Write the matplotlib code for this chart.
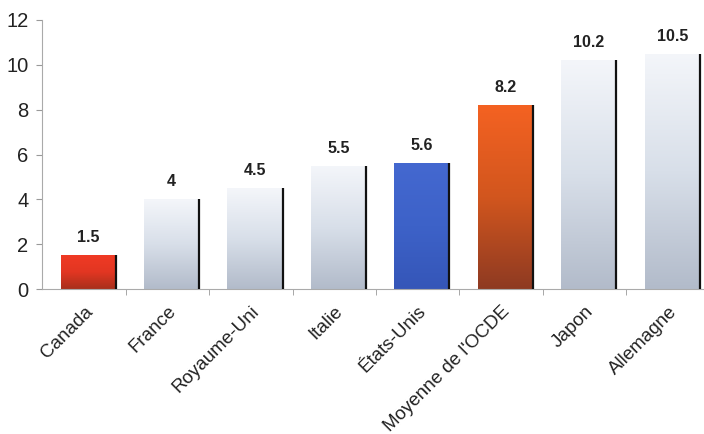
import matplotlib
matplotlib.use("Agg")
import matplotlib.pyplot as plt
import matplotlib.transforms as mtransforms
import numpy as np
from matplotlib.colors import LinearSegmentedColormap

categories = ["Canada", "France", "Royaume-Uni", "Italie", "États-Unis",
              "Moyenne de l'OCDE", "Japon", "Allemagne"]
values = [1.5, 4, 4.5, 5.5, 5.6, 8.2, 10.2, 10.5]
value_labels = ["1.5", "4", "4.5", "5.5", "5.6", "8.2", "10.2", "10.5"]
styles = ["red", "gray", "gray", "gray", "blue", "orange", "gray", "gray"]
yticks = [0, 2, 4, 6, 8, 10, 12]

plt.rcParams['font.family'] = ['Liberation Sans', 'DejaVu Sans']

grads = {
    "red": ["#a8301c", "#e23622", "#f03a24"],      # bottom -> top
    "gray": ["#b2bbca", "#d8dfe9", "#f4f6fa"],
    "blue": ["#3556b8", "#3d62c8", "#4468d0"],
    "orange": ["#8e3a22", "#d2561e", "#f46222"],
}

fig = plt.figure(figsize=(7.04, 4.34), dpi=100)
ax = fig.add_axes([0.06, 0.334, 0.94, 0.62])

x = np.arange(len(categories))
w = 0.66
bars = ax.bar(x + 0.05, values, width=w, color="none", edgecolor="none", zorder=2)

grad = np.linspace(0, 1, 256).reshape(-1, 1)
for b, s, v, lab in zip(bars, styles, values, value_labels):
    x0, y0 = b.get_x(), b.get_y()
    x1, y1 = x0 + b.get_width(), y0 + b.get_height()
    cmap = LinearSegmentedColormap.from_list(s, grads[s])
    im = ax.imshow(grad, extent=[x0, x1, y0, y1], origin="lower", cmap=cmap,
                   aspect="auto", zorder=2)
    im.set_clip_path(b)
    ax.plot([x1, x1], [y0, y1], color="#111111", lw=1.6, zorder=3,
            solid_capstyle="butt")
    ax.text(b.get_x() + b.get_width() / 2, v + 0.45, lab, ha="center",
            va="bottom", fontsize=11.5, fontweight="bold", color="#222222")

ax.set_xlim(-0.5, 7.43)
ax.set_ylim(0, 12)
ax.set_yticks(yticks)
ax.set_yticklabels([str(t) for t in yticks], fontsize=14.5, color="#222222")
ax.set_xticks(x)
ax.set_xticklabels(categories, rotation=45, ha="right", rotation_mode="anchor",
                   fontsize=13.5, color="#222222")
offset = mtransforms.ScaledTranslation(8 / 100, 0, fig.dpi_scale_trans)
for t in ax.get_xticklabels():
    t.set_transform(t.get_transform() + offset)
ax.tick_params(axis="x", length=0, pad=10)
ax.set_xticks(np.arange(0.5, 7.5, 1), minor=True)
ax.tick_params(axis="x", which="minor", length=4, color="#999999")
ax.tick_params(axis="y", length=4, color="#999999", pad=6)
for sp in ["top", "right"]:
    ax.spines[sp].set_visible(False)
ax.spines["left"].set_color("#aaaaaa")
ax.spines["bottom"].set_color("#aaaaaa")

fig.savefig("out.png", dpi=100)
